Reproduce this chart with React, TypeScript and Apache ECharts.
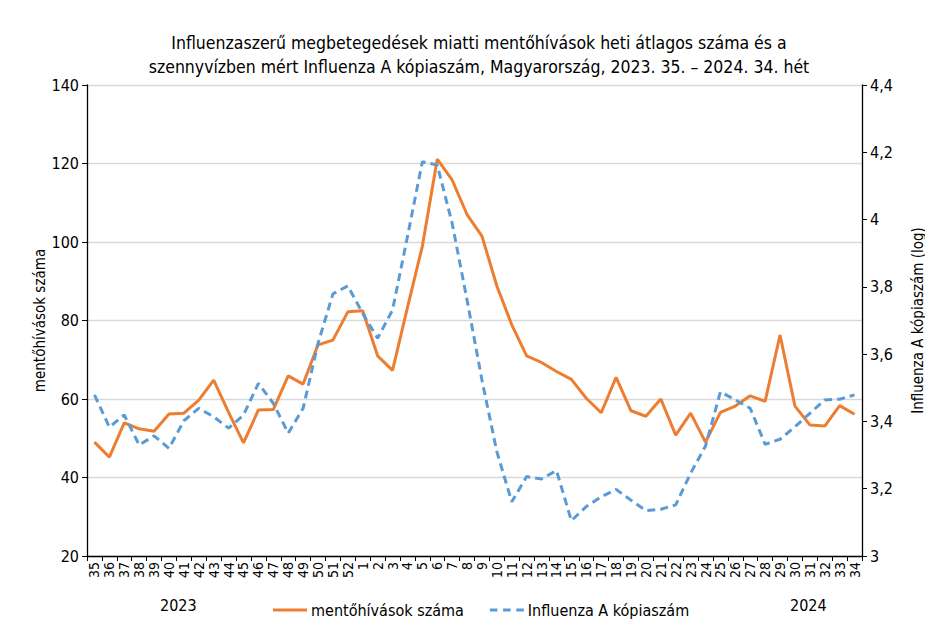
import React, { useEffect, useRef } from "react";
import * as echarts from "echarts";

const weeks: string[] = [
  "35","36","37","38","39","40","41","42","43","44","45","46","47","48","49","50","51","52",
  "1","2","3","4","5","6","7","8","9","10","11","12","13","14","15","16","17","18","19","20",
  "21","22","23","24","25","26","27","28","29","30","31","32","33","34",
];

const mentohivasok: number[] = [
  49.0, 45.2, 53.9, 52.4, 51.8, 56.2, 56.4, 59.7, 64.8, 56.6, 48.8, 57.2, 57.3, 65.9, 63.8, 73.8, 75.0, 82.2,
  82.5, 71.0, 67.3, 83.3, 98.9, 121.1, 115.8, 107.0, 101.5, 88.8, 78.9, 71.0, 69.3, 67.0, 65.0, 60.2, 56.5, 65.5,
  57.0, 55.6, 60.0, 50.8, 56.4, 49.0, 56.6, 58.2, 60.8, 59.4, 76.3, 58.2, 53.4, 53.1, 58.3, 56.1,
];

const influenzaA: number[] = [
  3.479, 3.383, 3.419, 3.330, 3.357, 3.320, 3.402, 3.439, 3.414, 3.380, 3.419, 3.513, 3.454, 3.365, 3.439, 3.632, 3.779, 3.803,
  3.721, 3.647, 3.731, 3.949, 4.172, 4.162, 3.989, 3.761, 3.523, 3.310, 3.161, 3.236, 3.229, 3.254, 3.105, 3.147, 3.176, 3.198,
  3.166, 3.135, 3.139, 3.152, 3.246, 3.327, 3.488, 3.464, 3.439, 3.332, 3.347, 3.384, 3.424, 3.464, 3.466, 3.479,
];

const titleLines: string[] = [
  "Influenzaszerű megbetegedések miatti mentőhívások heti átlagos száma és a",
  "szennyvízben mért Influenza A kópiaszám, Magyarország, 2023. 35. – 2024. 34. hét",
];
const yearLabels: string[] = ["2023", "2024"];
const seriesNames: string[] = ["mentőhívások száma", "Influenza A kópiaszám"];
const leftAxisName = "mentőhívások száma";
const rightAxisName = "Influenza A kópiaszám (log)";

const FONT = "'Liberation Sans Narrow', 'DejaVu Sans Condensed', 'Liberation Sans', sans-serif";

const SOLID_ICON = "path://M0,0h36v3h-36z";
const DASH_ICON = "path://M0,0h8v3h-8z M14,0h8v3h-8z M28,0h8v3h-8z";

export default function App() {
  const ref = useRef<HTMLDivElement>(null);
  useEffect(() => {
    if (!ref.current) return;
    const chart = echarts.init(ref.current, undefined, { renderer: "svg" });
    const axisLine = { show: true, lineStyle: { color: "#000", width: 1.3 } };
    chart.setOption({
      animation: false,
      backgroundColor: "#fff",
      textStyle: { fontFamily: FONT },
      title: {
        text: titleLines.join("\n"),
        left: 474,
        textAlign: "center",
        top: 26,
        textStyle: { fontFamily: FONT, fontSize: 17.5, fontWeight: "normal", color: "#000", lineHeight: 24 },
      },
      grid: { left: 87, right: 63, top: 85, bottom: 81, containLabel: false, outerBoundsMode: "none" },
      legend: {
        data: [
          { name: seriesNames[0], icon: SOLID_ICON },
          { name: seriesNames[1], icon: DASH_ICON },
        ],
        left: 268,
        top: 597,
        itemWidth: 34,
        itemHeight: 3,
        itemGap: 26,
        textStyle: { fontFamily: FONT, fontSize: 16, color: "#000", padding: [0, 0, 0, -1] },
      },
      graphic: [
        { type: "text", left: 160, top: 597, style: { text: yearLabels[0], font: `16px ${FONT}`, fill: "#000" } },
        { type: "text", left: 790, top: 597, style: { text: yearLabels[1], font: `16px ${FONT}`, fill: "#000" } },
      ],
      xAxis: {
        type: "category",
        data: weeks,
        boundaryGap: true,
        axisLine,
        axisTick: { show: true, alignWithLabel: false, length: 5, lineStyle: { color: "#000" } },
        axisLabel: { rotate: 90, interval: 0, fontSize: 14, color: "#000", fontFamily: FONT, margin: 6 },
        splitLine: { show: false },
      },
      yAxis: [
        {
          type: "value",
          min: 20,
          max: 140,
          interval: 20,
          name: leftAxisName,
          nameLocation: "middle",
          nameGap: 40,
          nameRotate: 90,
          nameMoveOverlap: false,
          nameTextStyle: { fontFamily: FONT, fontSize: 15, color: "#000" },
          axisLine,
          axisTick: { show: true, length: 5, lineStyle: { color: "#000" } },
          axisLabel: { fontSize: 16, color: "#000", fontFamily: FONT, margin: 8 },
          splitLine: { show: true, lineStyle: { color: "#d9d9d9", width: 1.3 } },
        },
        {
          type: "value",
          min: 3,
          max: 4.4,
          interval: 0.2,
          position: "right",
          name: rightAxisName,
          nameLocation: "middle",
          nameGap: 48,
          nameRotate: 90,
          nameMoveOverlap: false,
          nameTextStyle: { fontFamily: FONT, fontSize: 15, color: "#000" },
          axisLine,
          axisTick: { show: true, length: 5, lineStyle: { color: "#000" } },
          axisLabel: {
            fontSize: 16,
            color: "#000",
            fontFamily: FONT,
            margin: 8,
            formatter: (v: number) => String(Number(v.toFixed(1))).replace(".", ","),
          },
          splitLine: { show: false },
        },
      ],
      series: [
        {
          name: seriesNames[0],
          type: "line",
          yAxisIndex: 0,
          data: mentohivasok,
          symbol: "none",
          lineStyle: { color: "#ED7D31", width: 3 },
          itemStyle: { color: "#ED7D31" },
        },
        {
          name: seriesNames[1],
          type: "line",
          yAxisIndex: 1,
          data: influenzaA,
          symbol: "none",
          lineStyle: { color: "#5B9BD5", width: 3, type: [8, 5] },
          itemStyle: { color: "#5B9BD5" },
        },
      ],
    });
    return () => chart.dispose();
  }, []);
  return <div ref={ref} style={{ width: 925, height: 637, position: "fixed", left: 0, top: 0 }} />;
}
